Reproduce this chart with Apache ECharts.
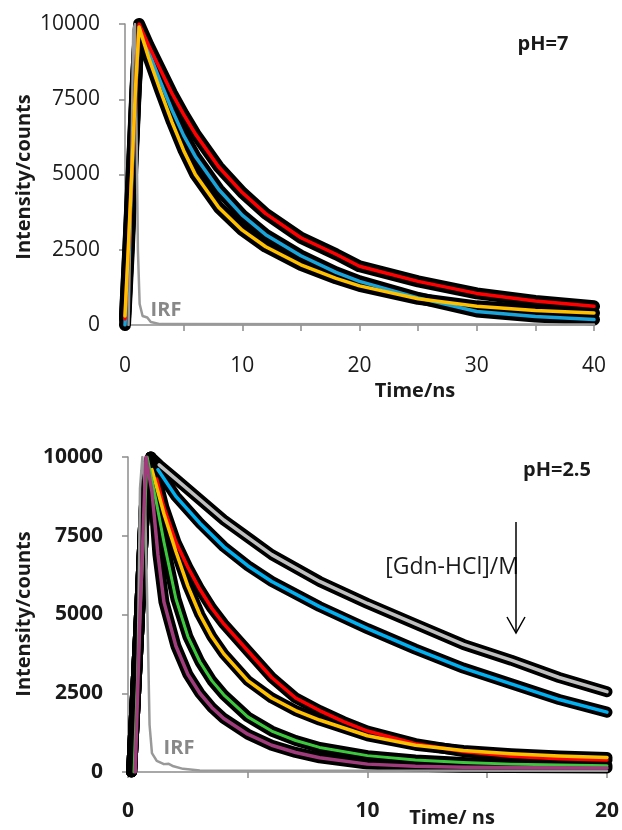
<!DOCTYPE html>
<html>
<head>
<meta charset="utf-8">
<script src="https://cdn.jsdelivr.net/npm/echarts@6/dist/echarts.min.js"></script>
<style>
html,body{margin:0;padding:0;background:#fff;}
#chart{width:622px;height:830px;}
</style>
</head>
<body>
<div id="chart"></div>
<script>
// ---------- Top panel (pH = 7) ----------
var topTime   = [0, 0.3, 0.6, 0.9, 1.2, 2, 3, 4, 5, 6, 8, 10, 12, 15, 18, 20, 25, 30, 35, 40];
var topRed    = [200, 2600, 5200, 7800, 10000, 9300, 8500, 7700, 7000, 6350, 5250, 4400, 3700, 2900, 2350, 1950, 1450, 1050, 800, 620];
var topBlue   = [0, 2300, 5000, 7700, 9900, 9100, 8100, 7150, 6300, 5600, 4500, 3650, 3000, 2300, 1750, 1450, 900, 450, 280, 180];
var topYellow = [300, 2700, 5300, 7900, 9900, 8900, 7800, 6750, 5800, 5000, 3900, 3150, 2600, 2000, 1550, 1300, 870, 620, 480, 400];
var topIrfTime = [0.3, 0.5, 0.7, 0.85, 1.0, 1.1, 1.25, 1.5, 1.9, 2.2, 3, 40];
var topIrf     = [0, 4000, 9800, 10000, 6000, 2500, 700, 300, 250, 100, 30, 20];
var topXTicks = [0, 10, 20, 30, 40];

// ---------- Bottom panel (pH = 2.5) ----------
var riseTime = [0.15, 0.45, 0.75, 0.95];
var riseVal  = [0, 4500, 9500, 10000];
var greyTime   = [1.3, 2, 3, 4, 5, 6, 8, 10, 12, 14, 16, 18, 20];
var greyVal    = [9750, 9300, 8650, 8000, 7450, 6900, 6050, 5350, 4700, 4050, 3550, 3000, 2550];
var blueTime   = [1.25, 2, 3, 4, 5, 6, 8, 10, 12, 14, 16, 18, 20];
var blueVal    = [9600, 8750, 7900, 7150, 6550, 6050, 5250, 4550, 3900, 3300, 2800, 2300, 1900];
var redTime    = [1.2, 1.5, 2, 2.5, 3, 3.5, 4, 5, 6, 7, 8, 9, 10, 12, 14, 16, 18, 20];
var redVal     = [9300, 8400, 7300, 6500, 5800, 5200, 4700, 3850, 3000, 2350, 1950, 1600, 1300, 900, 650, 500, 420, 380];
var yellowTime = [1.0, 1.5, 2, 2.5, 3, 3.5, 4, 5, 6, 7, 8, 10, 12, 14, 16, 18, 20];
var yellowVal  = [9600, 8200, 7000, 5900, 5000, 4300, 3750, 2900, 2350, 1950, 1650, 1150, 850, 680, 580, 510, 460];
var greenTime  = [0.25, 0.5, 0.8, 1.2, 1.5, 2, 2.5, 3, 3.5, 4, 5, 6, 7, 8, 10, 12, 14, 16, 18, 20];
var greenVal   = [0, 5000, 10000, 8500, 7300, 5500, 4300, 3500, 2900, 2450, 1750, 1300, 1000, 780, 520, 380, 300, 250, 220, 200];
var purpleTime = [0.3, 0.5, 0.75, 1.0, 1.25, 1.5, 2, 2.5, 3, 3.5, 4, 5, 6, 7, 8, 10, 12, 14, 16, 20];
var purpleVal  = [0, 5000, 10000, 8900, 6900, 5400, 4000, 3100, 2500, 2050, 1700, 1200, 850, 620, 450, 250, 180, 150, 140, 130];
var botIrfTime = [0.3, 0.4, 0.5, 0.6, 0.7, 0.8, 0.9, 1.0, 1.2, 1.5, 1.7, 1.9, 2.3, 3, 20];
var botIrf     = [0, 3000, 9000, 10000, 9000, 5500, 1500, 600, 350, 250, 260, 180, 100, 50, 40];
var botXTicks = [0, 10, 20];

function pairs(t, v) { return t.map(function (x, i) { return [x, v[i]]; }); }
function withRise(t, v) {
  return pairs(riseTime.concat(t), riseVal.concat(v));
}

var FONT = '"Open Sans", "Liberation Sans", sans-serif';
var AXC = '#8c8c8c';

function dataLine(xi, d, w) {
  return { type: 'line', xAxisIndex: xi, yAxisIndex: xi, data: d, showSymbol: false, symbol: 'none',
    smooth: false, lineStyle: { color: '#000', width: w, join: 'round', cap: 'round' }, z: 2, silent: true };
}
function fitLine(xi, d, c, w) {
  return { type: 'line', xAxisIndex: xi, yAxisIndex: xi, data: d, showSymbol: false, symbol: 'none',
    smooth: false, lineStyle: { color: c, width: w, join: 'round', cap: 'round' }, z: 4, silent: true };
}
function plain(v) { return String(v); }

var chart = echarts.init(document.getElementById('chart'), null, { renderer: 'canvas' });

var option = {
  animation: false,
  backgroundColor: '#fff',
  grid: [
    { left: 125, top: 24, width: 469, height: 301, containLabel: false },
    { left: 128, top: 457, width: 480, height: 315, containLabel: false }
  ],
  xAxis: [
    { gridIndex: 0, type: 'value', min: 0, max: 40, interval: 5,
      axisLine: { lineStyle: { color: AXC, width: 1.5 } },
      axisTick: { show: true, inside: false, length: 6, lineStyle: { color: AXC, width: 1.5 } },
      splitLine: { show: false },
      axisLabel: { margin: 31, fontSize: 21, color: '#1a1a1a', fontFamily: FONT,
        formatter: function (v) { return topXTicks.indexOf(v) >= 0 ? String(v) : ''; } } },
    { gridIndex: 1, type: 'value', min: 0, max: 20, interval: 5,
      axisLine: { lineStyle: { color: AXC, width: 1.5 } },
      axisTick: { show: true, inside: false, length: 6, lineStyle: { color: AXC, width: 1.5 } },
      splitLine: { show: false },
      axisLabel: { margin: 29, fontSize: 21, fontWeight: 'bold', color: '#1a1a1a', fontFamily: FONT,
        formatter: function (v) { return botXTicks.indexOf(v) >= 0 ? String(v) : ''; } } }
  ],
  yAxis: [
    { gridIndex: 0, type: 'value', min: 0, max: 10000, interval: 2500,
      axisLine: { show: true, lineStyle: { color: AXC, width: 1.5 } },
      axisTick: { show: true, inside: false, length: 6, lineStyle: { color: AXC, width: 1.5 } },
      splitLine: { show: false },
      axisLabel: { margin: 25, fontSize: 21, color: '#1a1a1a', fontFamily: FONT, formatter: plain } },
    { gridIndex: 1, type: 'value', min: 0, max: 10000, interval: 2500,
      axisLine: { show: true, lineStyle: { color: AXC, width: 1.5 } },
      axisTick: { show: true, inside: false, length: 6, lineStyle: { color: AXC, width: 1.5 } },
      splitLine: { show: false },
      axisLabel: { margin: 25, fontSize: 21, fontWeight: 'bold', color: '#1a1a1a', fontFamily: FONT, formatter: plain } }
  ],
  series: [
    // top: measured decays (black bands)
    dataLine(0, pairs(topTime, topRed), 12),
    dataLine(0, pairs(topTime, topBlue), 12),
    dataLine(0, pairs(topTime, topYellow), 12),
    // top IRF
    fitLine(0, pairs(topIrfTime, topIrf), '#999999', 2.5),
    // top fits
    fitLine(0, pairs(topTime, topBlue), '#1aa3d9', 3.5),
    fitLine(0, pairs(topTime, topRed), '#ff0000', 3.5),
    fitLine(0, pairs(topTime, topYellow), '#ffc000', 3.5),

    // bottom: measured decays (black bands)
    dataLine(1, withRise(greyTime, greyVal), 11),
    dataLine(1, withRise(blueTime, blueVal), 11),
    dataLine(1, withRise(redTime, redVal), 11),
    dataLine(1, withRise(yellowTime, yellowVal), 11),
    dataLine(1, withRise(greenTime.slice(3), greenVal.slice(3)), 11),
    dataLine(1, withRise(purpleTime.slice(4), purpleVal.slice(4)), 11),
    // bottom IRF
    fitLine(1, pairs(botIrfTime, botIrf), '#999999', 2.5),
    // bottom fits
    fitLine(1, pairs(greyTime, greyVal), '#bfbfbf', 3.5),
    fitLine(1, pairs(blueTime, blueVal), '#00b0f0', 3.5),
    fitLine(1, pairs(redTime, redVal), '#ff0000', 3.5),
    fitLine(1, pairs(yellowTime, yellowVal), '#ffc000', 3.5),
    fitLine(1, pairs(greenTime, greenVal), '#3cc83c', 3),
    fitLine(1, pairs(purpleTime, purpleVal), '#a03c7c', 3.5)
  ],
  graphic: [
    { type: 'text', x: 415, y: 391, style: { text: 'Time/ns', font: 'bold 20px ' + FONT, fill: '#1a1a1a', textAlign: 'center', textVerticalAlign: 'middle' } },
    { type: 'text', x: 452, y: 818, style: { text: 'Time/ ns', font: 'bold 20px ' + FONT, fill: '#1a1a1a', textAlign: 'center', textVerticalAlign: 'middle' } },
    { type: 'text', x: 24, y: 177, rotation: Math.PI / 2, style: { text: 'Intensity/counts', font: 'bold 20px ' + FONT, fill: '#1a1a1a', textAlign: 'center', textVerticalAlign: 'middle' } },
    { type: 'text', x: 24, y: 614, rotation: Math.PI / 2, style: { text: 'Intensity/counts', font: 'bold 20px ' + FONT, fill: '#1a1a1a', textAlign: 'center', textVerticalAlign: 'middle' } },
    { type: 'text', x: 543, y: 44, style: { text: 'pH=7', font: 'bold 20px ' + FONT, fill: '#1a1a1a', textAlign: 'center', textVerticalAlign: 'middle' } },
    { type: 'text', x: 557, y: 470, style: { text: 'pH=2.5', font: 'bold 20px ' + FONT, fill: '#1a1a1a', textAlign: 'center', textVerticalAlign: 'middle' } },
    { type: 'text', x: 452, y: 567, style: { text: '[Gdn-HCl]/M', font: '23px ' + FONT, fill: '#1a1a1a', textAlign: 'center', textVerticalAlign: 'middle' } },
    { type: 'text', x: 166, y: 310, style: { text: 'IRF', font: 'bold 20px ' + FONT, fill: '#888888', textAlign: 'center', textVerticalAlign: 'middle' } },
    { type: 'text', x: 179, y: 748, style: { text: 'IRF', font: 'bold 20px ' + FONT, fill: '#888888', textAlign: 'center', textVerticalAlign: 'middle' } },
    { type: 'line', shape: { x1: 516, y1: 522, x2: 516, y2: 633 }, style: { stroke: '#000', lineWidth: 1.5 } },
    { type: 'polyline', shape: { points: [[507, 617], [516, 633], [525, 617]] }, style: { stroke: '#000', lineWidth: 1.5, fill: null } }
  ]
};
chart.setOption(option);
</script>
</body>
</html>
